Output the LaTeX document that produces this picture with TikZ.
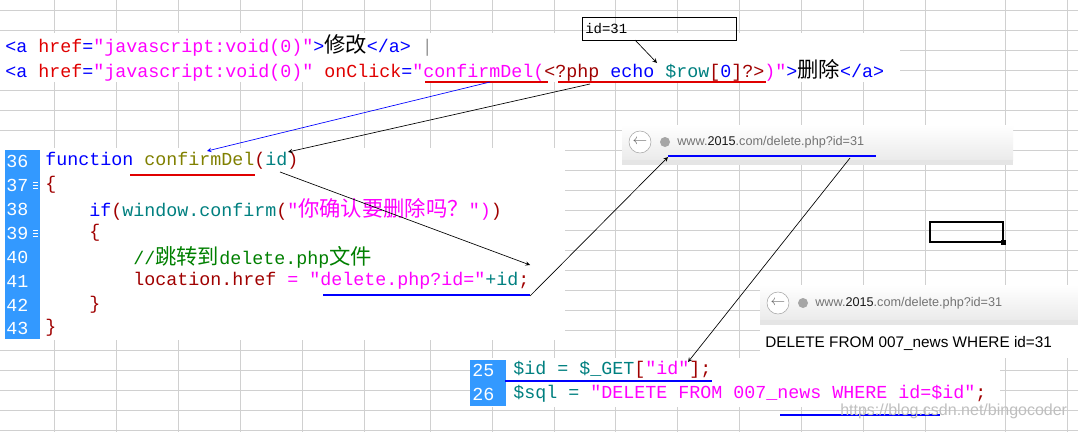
\documentclass[tikz,border=0pt]{standalone}
\usepackage{fontspec}
\setmonofont{Liberation Mono}
\setsansfont{Liberation Sans}
\newfontfamily\cjk{Noto Sans CJK SC}
\definecolor{tb}{HTML}{0000FF}
\definecolor{tr}{HTML}{E00000}
\definecolor{tm}{HTML}{FF00FF}
\definecolor{tt}{HTML}{008080}
\definecolor{td}{HTML}{A00000}
\definecolor{to}{HTML}{808000}
\definecolor{tg}{HTML}{008000}
\definecolor{lnbg}{HTML}{3399FF}
\definecolor{grid}{HTML}{D0D0D0}
\newcommand{\C}[1]{{\cjk\fontsize{16pt}{16pt}\selectfont #1}}
\begin{document}
\begin{tikzpicture}[x=0.75pt,y=-0.75pt,
  code/.style={anchor=west,inner sep=0,font=\ttfamily\fontsize{13.75pt}{16pt}\selectfont},
  lnum/.style={anchor=west,inner sep=0,text=white,font=\ttfamily\fontsize{13.75pt}{16pt}\selectfont},
  ul/.style={line width=2.2pt},
  arr/.style={-stealth,line width=0.5pt},
  url/.style={anchor=west,inner sep=0,font=\sffamily\fontsize{9.5pt}{11pt}\selectfont,text=black!55}]
\useasboundingbox (0,0) rectangle (1078,432);
\fill[white] (0,0) rectangle (1078,432);
% spreadsheet grid
\foreach \x in {-8,54,116,178,240,302,364,430,492,554,615,677,739,801,863,925,1005,1067}
  \draw[grid] (\x,0) -- (\x,432);
\foreach \y in {10,30,50,70,90,110,130,150,170,190,210,230,250,270,290,310,330,350,370,390,410,430}
  \draw[grid] (0,\y) -- (1078,\y);
% code panes (white backgrounds)
\fill[white] (0,33) rectangle (900,82);
\fill[white] (0,148) rectangle (565,340);
\fill[white] (470,358) rectangle (1000,407);
\fill[white] (622,125) rectangle (1013,165);
\fill[white] (760,285) rectangle (1078,358);
% selected cell
\draw[line width=1.6pt] (930,222) rectangle (1003,242);
\fill (1003,242) +(-2.5,-2.5) rectangle +(2.5,2.5);
% top lines
\node[code] (l1) at (5,45) {\textcolor{tb}{<a} \textcolor{tr}{href}\textcolor{tb}{=}\textcolor{tm}{"javascript:void(0)"}\textcolor{tb}{>}\C{修改}\textcolor{tb}{</a>} \textcolor{black!40}{|}};
\node[code] (l2) at (5,70) {\textcolor{tb}{<a} \textcolor{tr}{href}\textcolor{tb}{=}\textcolor{tm}{"javascript:void(0)"} \textcolor{tr}{onClick}\textcolor{tb}{=}\textcolor{tm}{"confirmDel(}\textcolor{td}{<?php} \textcolor{tb}{echo} \textcolor{tt}{\$row}\textcolor{td}{[}\textcolor{tb}{0}\textcolor{td}{]?>}\textcolor{tm}{)"}\textcolor{tb}{>}\C{删除}\textcolor{tb}{</a>}};
\coordinate (u1a) at (425,82); \coordinate (u1b) at (548,82);
\coordinate (u2a) at (558,82); \coordinate (u2b) at (766,82);
\draw[tr,ul] (u1a) -- (u1b);
\draw[tr,ul] (u2a) -- (u2b);
\node[draw,anchor=north west,minimum width=154*0.75pt,minimum height=23*0.75pt,inner sep=2pt,font=\ttfamily\fontsize{10.5pt}{12pt}\selectfont,text width=148*0.75pt] (idbox) at (582,17) {id=31};
\coordinate (idtip) at (657,63);
\draw[arr] (635,40) -- (idtip);
% JS block
\fill[lnbg] (5,150) rectangle (40,339);
\foreach \n/\y in {36/161,37/185,38/209,39/233,40/257,41/281,42/305,43/328}
  \node[lnum] at (6,\y) {\n};
\foreach \y in {185,233} {\draw[white,line width=0.6pt] (33,\y-3) -- (38,\y-3) (33,\y) -- (38,\y) (33,\y+3) -- (38,\y+3);}
\node[code] (f36) at (45,161) {\textcolor{tb}{function} \textcolor{to}{confirmDel}\textcolor{td}{(}\textcolor{tt}{id}\textcolor{td}{)}};
\node[code] at (45,185) {\textcolor{td}{\{}};
\node[code] at (45,209) {\phantom{xxxx}\textcolor{tb}{if}\textcolor{td}{(}\textcolor{tt}{window.confirm}\textcolor{td}{(}\textcolor{tm}{"\C{你确认要删除吗？}")}\textcolor{td}{)}};
\node[code] at (45,233) {\phantom{xxxx}\textcolor{td}{\{}};
\node[code] at (45,257) {\phantom{xxxxxxxx}\textcolor{tg}{//\C{跳转到}delete.php\C{文件}}};
\node[code] at (45,281) {\phantom{xxxxxxxx}\textcolor{td}{location.href} \textcolor{tm}{=} \textcolor{tm}{"delete.php?id="}\textcolor{tt}{+id}\textcolor{td}{;}};
\node[code] at (45,305) {\phantom{xxxx}\textcolor{td}{\}}};
\node[code] at (45,328) {\textcolor{td}{\}}};
\draw[tr,ul] (130,175) -- (255,175);
\draw[tb,ul] (323,295) -- (530,295);
% browser 1
\shade[top color=white,bottom color=black!8] (622,125) rectangle (1013,160);
\draw[black!25] (622,160) -- (1013,160);
\fill[black!10] (1013,160) rectangle (622,165);
\draw[black!35,fill=white] (640,142) circle (11);
\node[font=\sffamily\bfseries\fontsize{11pt}{12pt}\selectfont,text=black!60] at (640,142) {$\leftarrow$};
\fill[black!35] (665,142) circle (5);
\node[url] (url1) at (677,142) {www.\textcolor{black!90}{2015}.com/delete.php?id=31};
\draw[tb,ul] (668,156) -- (876,156);
% browser 2
\shade[top color=white,bottom color=black!8] (760,285) rectangle (1078,320);
\draw[black!25] (760,320) -- (1078,320);
\fill[black!10] (760,320) rectangle (1078,325);
\draw[black!35,fill=white] (778,303) circle (11);
\node[font=\sffamily\bfseries\fontsize{11pt}{12pt}\selectfont,text=black!60] at (778,303) {$\leftarrow$};
\fill[black!35] (803,303) circle (5);
\node[url] (url2) at (815,303) {www.\textcolor{black!90}{2015}.com/delete.php?id=31};
\node[anchor=west,inner sep=0,font=\sffamily\fontsize{11.5pt}{13pt}\selectfont] (res) at (765,343) {DELETE FROM 007\_news WHERE id=31};
% PHP block
\fill[lnbg] (470,360) rectangle (506,406);
\node[lnum] at (472,370) {25};
\node[lnum] at (472,394) {26};
\node[code] (p25) at (513,370) {\textcolor{tt}{\$id = \$\_GET}\textcolor{td}{[}\textcolor{tm}{"id"}\textcolor{td}{];}};
\node[code] (p26) at (513,394) {\textcolor{tt}{\$sql =} \textcolor{tm}{"DELETE FROM 007\_news WHERE id=\$id"}\textcolor{td}{;}};
\draw[tb,ul] (505,381) -- (712,381);
\draw[tb,ul] (780,415) -- (940,415);
\node[anchor=west,inner sep=0,font=\sffamily\fontsize{12pt}{13pt}\selectfont,text=black!25] at (840,411) {https://blog.csdn.net/bingocoder};
% arrows
\coordinate (a1) at (490,82); \coordinate (a1e) at (207,151);
\coordinate (a2) at (590,84); \coordinate (a2e) at (288,152);
\coordinate (a3) at (280,172); \coordinate (a3e) at (530,265);
\coordinate (a4) at (530,296); \coordinate (a4e) at (668,157);
\coordinate (a5) at (850,158); \coordinate (a5e) at (688,362);
\draw[arr,tb] (a1) -- (a1e);
\draw[arr] (a2) -- (a2e);
\draw[arr] (a3) -- (a3e);
\draw[arr] (a4) -- (a4e);
\draw[arr] (a5) -- (a5e);
\end{tikzpicture}
\end{document}
